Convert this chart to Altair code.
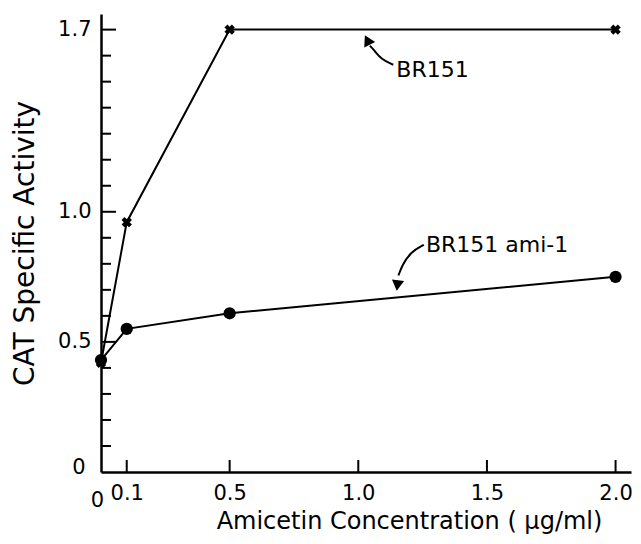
import altair as alt
import pandas as pd

# ---- data ----
conc = [0, 0.1, 0.5, 2.0]
br151 = [0.42, 0.96, 1.70, 1.70]
ami1 = [0.43, 0.55, 0.61, 0.75]

x_label_values = [0, 0.1, 0.5, 1.0, 1.5, 2.0]
x_tick_values = [0.1, 0.5, 1.0, 1.5, 2.0]
y_label_values = [0, 0.5, 1.0, 1.7]
y_major_ticks = [0.5, 1.0, 1.7]
y_minor_ticks = [0.1, 0.2, 0.3, 0.4, 0.6, 0.7, 0.8, 0.9, 1.1, 1.2, 1.3, 1.4, 1.5, 1.6]

# annotation texts and arrow paths (data coordinates)
ann_text = ["BR151", "BR151 ami-1"]
ann_x = [1.148, 1.263]
ann_y = [1.519, 0.846]
arrow1_x = [1.136, 1.090, 1.060, 1.045]
arrow1_y = [1.565, 1.585, 1.623, 1.638]
arrow2_x = [1.255, 1.205, 1.171, 1.156]
arrow2_y = [0.873, 0.846, 0.796, 0.755]
head_x = [1.035, 1.152]
head_y = [1.660, 0.717]
head_angle = [333, 187]

FONT = "DejaVu Sans"
W, H = 530, 458
xs = alt.Scale(domain=[0, 2.06], nice=False, zero=False)
ys = alt.Scale(domain=[0, 1.76], nice=False, zero=False)

df_br = pd.DataFrame({"x": conc, "y": br151})
df_ami = pd.DataFrame({"x": conc, "y": ami1})

label_expr = "datum.value == 0 ? '0' : format(datum.value, '.1f')"

x_axis = alt.Axis(
    values=x_label_values, labelExpr=label_expr, ticks=False, grid=False,
    domainColor="black", domainWidth=2.5,
    labelFont=FONT, labelFontSize=21, labelColor="black", labelFlush=False, labelOverlap=False,
    labelBaseline="top",
    labelPadding={"condition": {"test": "datum.value == 0", "value": 17}, "value": 10},
    labelOffset={"condition": {"test": "datum.value == 0", "value": -4}, "value": 0},
    title="Amicetin Concentration ( μg/ml)", titleFont=FONT, titleFontSize=24,
    titleFontWeight="normal", titleColor="black", titleX=308, titleY=56,
    titleAlign="center", titleBaseline="alphabetic",
)
y_axis = alt.Axis(
    values=y_label_values, labelExpr=label_expr, ticks=False, grid=False,
    domainColor="black", domainWidth=2.5,
    labelFont=FONT, labelFontSize=21, labelColor="black", labelFlush=False, labelOverlap=False,
    labelPadding={"condition": {"test": "datum.value == 0", "value": 16}, "value": 10},
    labelOffset={"condition": {"test": "datum.value == 0", "value": -5}, "value": 0},
    title="CAT Specific Activity", titleFont=FONT, titleFontSize=28,
    titleFontWeight="normal", titleColor="black", titleX=-68, titleY=H / 2,
    titleAngle=-90, titleAlign="center", titleBaseline="alphabetic",
)


def X(field):
    return alt.X(field, scale=xs, axis=x_axis)


def Y(field):
    return alt.Y(field, scale=ys, axis=y_axis)


line_br = alt.Chart(df_br).mark_line(color="black", strokeWidth=2).encode(x=X("x:Q"), y=Y("y:Q"))
pts_br = alt.Chart(df_br).mark_point(
    shape="cross", angle=45, filled=True, size=110, color="black", opacity=1
).encode(x=X("x:Q"), y=Y("y:Q"))
line_ami = alt.Chart(df_ami).mark_line(color="black", strokeWidth=2).encode(x=X("x:Q"), y=Y("y:Q"))
pts_ami = alt.Chart(df_ami).mark_circle(size=150, color="black", opacity=1).encode(x=X("x:Q"), y=Y("y:Q"))

# inward ticks
y_minor = alt.Chart(pd.DataFrame({"v": y_minor_ticks})).mark_rule(color="black", strokeWidth=2).encode(
    y=Y("v:Q"), x=alt.value(0), x2=alt.value(10)
)
y_major = alt.Chart(pd.DataFrame({"v": y_major_ticks})).mark_rule(color="black", strokeWidth=2).encode(
    y=Y("v:Q"), x=alt.value(0), x2=alt.value(15)
)
x_ticks = alt.Chart(pd.DataFrame({"v": x_tick_values})).mark_rule(color="black", strokeWidth=2).encode(
    x=X("v:Q"), y=alt.value(H), y2=alt.value(H - 12)
)

# annotations
ann = alt.Chart(pd.DataFrame({"t": ann_text, "x": ann_x, "y": ann_y})).mark_text(
    font=FONT, fontSize=22, color="black", align="left", baseline="alphabetic"
).encode(x=X("x:Q"), y=Y("y:Q"), text="t:N")
arrows_df = pd.DataFrame({
    "x": arrow1_x + arrow2_x,
    "y": arrow1_y + arrow2_y,
    "g": ["a"] * len(arrow1_x) + ["b"] * len(arrow2_x),
    "o": list(range(len(arrow1_x))) + list(range(len(arrow2_x))),
})
arrows = alt.Chart(arrows_df).mark_line(color="black", strokeWidth=2, interpolate="basis").encode(
    x=X("x:Q"), y=Y("y:Q"), detail="g:N", order="o:Q",
)
heads = alt.Chart(pd.DataFrame({"x": head_x, "y": head_y, "a": head_angle})).mark_point(
    shape="triangle-up", filled=True, size=150, color="black", opacity=1
).encode(x=X("x:Q"), y=Y("y:Q"), angle=alt.Angle("a:Q", scale=None))

chart = alt.layer(
    line_br, line_ami, y_minor, y_major, x_ticks, pts_br, pts_ami, arrows, heads, ann
).properties(
    width=W, height=H,
    autosize=alt.AutoSizeParams(type="none"),
    padding={"left": 93, "top": 6, "right": 2, "bottom": 62},
    background="white",
).configure_view(stroke=None)

chart.save("out.html", embed_options={"renderer": "svg", "actions": False})
